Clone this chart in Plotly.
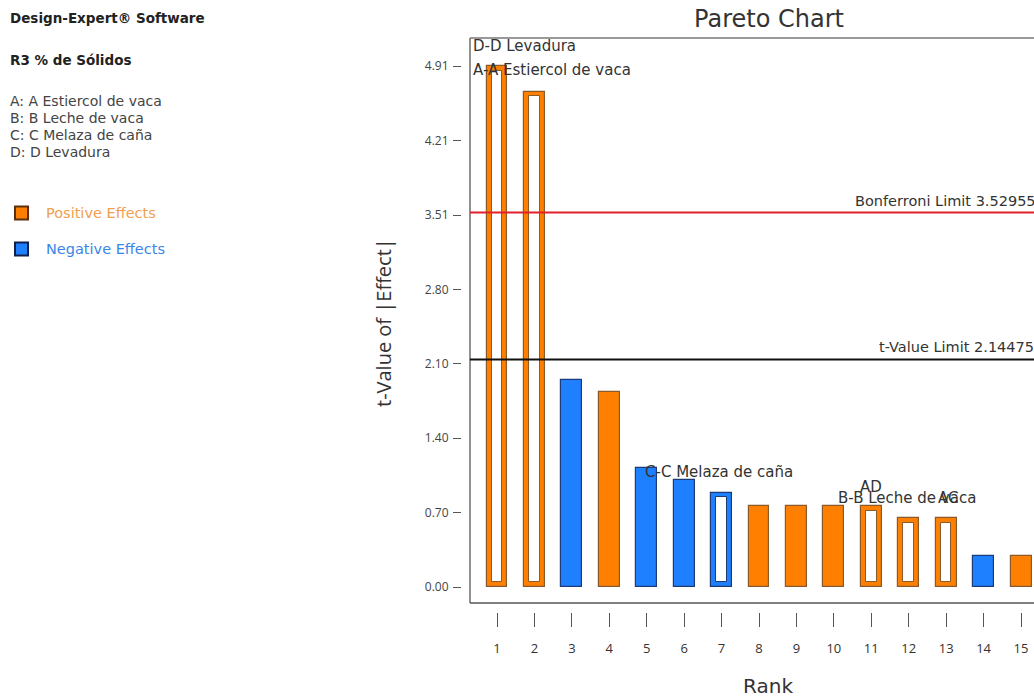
import plotly.graph_objects as go

# ---- data ----
ranks = list(range(1, 16))
t_values = [4.91, 4.67, 1.95, 1.84, 1.12, 1.01, 0.89, 0.76, 0.76, 0.76, 0.76, 0.65, 0.65, 0.29, 0.29]
positive = [True, True, False, True, False, False, False, True, True, True, True, True, True, False, True]
hollow = [True, True, False, False, False, False, True, False, False, False, True, True, True, False, False]

bonferroni_limit = 3.52955
t_value_limit = 2.14475

y_tick_step = 0.7011
y_tick_labels = ["0.00", "0.70", "1.40", "2.10", "2.80", "3.51", "4.21", "4.91"]

factor_lines = ["A: A Estiercol de vaca", "B: B Leche de vaca", "C: C Melaza de caña", "D: D Levadura"]

# term labels: text, x (rank units), y (t units)
term_labels = [
    ("D-D Levadura", 0.30, 5.10),
    ("A-A Estiercol de vaca", 0.30, 4.87),
    ("C-C Melaza de caña", 4.90, 1.08),
    ("B-B Leche de vaca", 10.05, 0.84),
    ("AD", 10.64, 0.94),
    ("AC", 12.73, 0.84),
]

# ---- styling ----
W, H = 1034, 698
PLOT_L, PLOT_R, PLOT_T, PLOT_B = 462, 1034, 38, 612
ORANGE, ORANGE_EDGE = "#FF8000", "#8A5A2A"
BLUE, BLUE_EDGE = "#1E80FF", "#1C3C78"
FONT = "Open Sans, Noto Sans, sans-serif"
WIDE = "DejaVu Sans, Verdana, sans-serif"
TEXT = "#333333"

def px_x(px):
    return (px - PLOT_L) / (PLOT_R - PLOT_L)

def px_y(py):
    return (PLOT_B - py) / (PLOT_B - PLOT_T)

fill = [ORANGE if p else BLUE for p in positive]
edge = [ORANGE_EDGE if p else BLUE_EDGE for p in positive]

fig = go.Figure()

# outer bars (all effects)
fig.add_trace(go.Bar(
    x=ranks, y=t_values, width=0.56,
    marker=dict(color=fill, line=dict(color=edge, width=1.2)),
    showlegend=False, hoverinfo="x+y",
))

# white cores for the hollow bars
hx = [r for r, h in zip(ranks, hollow) if h]
ht = [t for t, h in zip(t_values, hollow) if h]
he = [e for e, h in zip(edge, hollow) if h]
ring = 0.045
fig.add_trace(go.Bar(
    x=hx, y=[t - 2 * ring for t in ht], base=[ring] * len(hx), width=0.28,
    marker=dict(color="white", line=dict(color=he, width=1)),
    showlegend=False, hoverinfo="skip",
))

shapes = []
# plot frame (left, bottom, top) offset from the tick marks
frame_col = "#555555"
shapes.append(dict(type="line", xref="paper", yref="paper", x0=px_x(470), x1=px_x(470), y0=px_y(603), y1=1,
                   line=dict(color=frame_col, width=1.3)))
shapes.append(dict(type="line", xref="paper", yref="paper", x0=px_x(470), x1=1, y0=px_y(603), y1=px_y(603),
                   line=dict(color=frame_col, width=1.3)))
shapes.append(dict(type="line", xref="paper", yref="paper", x0=px_x(470), x1=1, y0=1, y1=1,
                   line=dict(color="#777777", width=1.3)))
# significance limits
shapes.append(dict(type="line", xref="paper", yref="y", x0=px_x(470), x1=1, y0=bonferroni_limit, y1=bonferroni_limit,
                   line=dict(color="#E0202A", width=2)))
shapes.append(dict(type="line", xref="paper", yref="y", x0=px_x(470), x1=1, y0=t_value_limit, y1=t_value_limit,
                   line=dict(color="#111111", width=2)))
# legend swatches
for cy, c, e in [(213, ORANGE, "#5A3010"), (249, BLUE, "#10204A")]:
    shapes.append(dict(type="rect", xref="paper", yref="paper",
                       x0=px_x(15), x1=px_x(28), y0=px_y(cy + 6.5), y1=px_y(cy - 6.5),
                       fillcolor=c, line=dict(color=e, width=2)))

ann = []
ann.append(dict(text="Bonferroni Limit 3.52955", xref="paper", yref="y", x=px_x(853), y=bonferroni_limit,
                xanchor="left", yanchor="bottom", yshift=2, showarrow=False, font=dict(size=14.5, color=TEXT, family=WIDE)))
ann.append(dict(text="t-Value Limit 2.14475", xref="paper", yref="y", x=px_x(877), y=t_value_limit,
                xanchor="left", yanchor="bottom", yshift=2, showarrow=False, font=dict(size=14.5, color=TEXT, family=WIDE)))
for txt, lx, ly in term_labels:
    ann.append(dict(text=txt, xref="x", yref="y", x=lx, y=ly, xanchor="left", yanchor="middle",
                    showarrow=False, font=dict(size=15, color=TEXT, family=WIDE)))

# axis titles
ann.append(dict(text="Rank", xref="paper", yref="paper", x=px_x(768), y=px_y(686), xanchor="center", yanchor="middle",
                showarrow=False, font=dict(size=20, color=TEXT, family=WIDE)))
ann.append(dict(text="t-Value of |Effect|", xref="paper", yref="paper", x=px_x(383), y=px_y(323), textangle=-90,
                xanchor="center", yanchor="middle", showarrow=False, font=dict(size=20, color=TEXT, family=FONT)))

# side information panel
ann.append(dict(text="<b>Design-Expert® Software</b>", xref="paper", yref="paper", x=px_x(8), y=px_y(18),
                xanchor="left", yanchor="middle", showarrow=False, font=dict(size=13.5, color="#222222", family=WIDE)))
ann.append(dict(text="<b>R3 % de Sólidos</b>", xref="paper", yref="paper", x=px_x(8), y=px_y(60),
                xanchor="left", yanchor="middle", showarrow=False, font=dict(size=13.5, color="#222222", family=WIDE)))
for i, line in enumerate(factor_lines):
    ann.append(dict(text=line, xref="paper", yref="paper", x=px_x(8), y=px_y(101 + 17 * i),
                    xanchor="left", yanchor="middle", showarrow=False, font=dict(size=14, color="#444444", family=WIDE)))
ann.append(dict(text="Positive Effects", xref="paper", yref="paper", x=px_x(44), y=px_y(213),
                xanchor="left", yanchor="middle", showarrow=False, font=dict(size=14.5, color="#F0A050", family=WIDE)))
ann.append(dict(text="Negative Effects", xref="paper", yref="paper", x=px_x(44), y=px_y(249),
                xanchor="left", yanchor="middle", showarrow=False, font=dict(size=14.5, color="#3A86E8", family=WIDE)))

px_per_rank = 37.43
x0 = 1 - (497 - PLOT_L) / px_per_rank
x1 = 1 + (PLOT_R - 497) / px_per_rank
px_per_t = 106.1
y0 = -(PLOT_B - 587) / px_per_t
y1 = (587 - PLOT_T) / px_per_t

fig.update_layout(
    width=W, height=H,
    margin=dict(l=PLOT_L, r=W - PLOT_R, t=PLOT_T, b=H - PLOT_B, pad=0),
    paper_bgcolor="white", plot_bgcolor="white",
    barmode="overlay", bargap=0,
    title=dict(text="Pareto Chart", xref="container", yref="container", x=769 / W, y=1 - 19 / H,
               xanchor="center", yanchor="middle", font=dict(size=24, color=TEXT, family=WIDE)),
    xaxis=dict(range=[x0, x1], tickvals=ranks, ticktext=[str(r) for r in ranks], ticks="outside", ticklen=14,
               tickcolor="#555555", tickwidth=1.3, showgrid=False, zeroline=False, showline=False,
               tickfont=dict(size=13, color=TEXT, family=FONT), ticklabelstandoff=10),
    yaxis=dict(range=[y0, y1], tickvals=[k * y_tick_step for k in range(len(y_tick_labels))], ticktext=y_tick_labels,
               ticks="outside", ticklen=8, tickcolor="#555555", tickwidth=1.3, showgrid=False, zeroline=False,
               showline=False, tickfont=dict(size=12, color="#444444", family=FONT), ticklabelstandoff=2),
    shapes=shapes, annotations=ann,
)

fig.write_html("out.html")
